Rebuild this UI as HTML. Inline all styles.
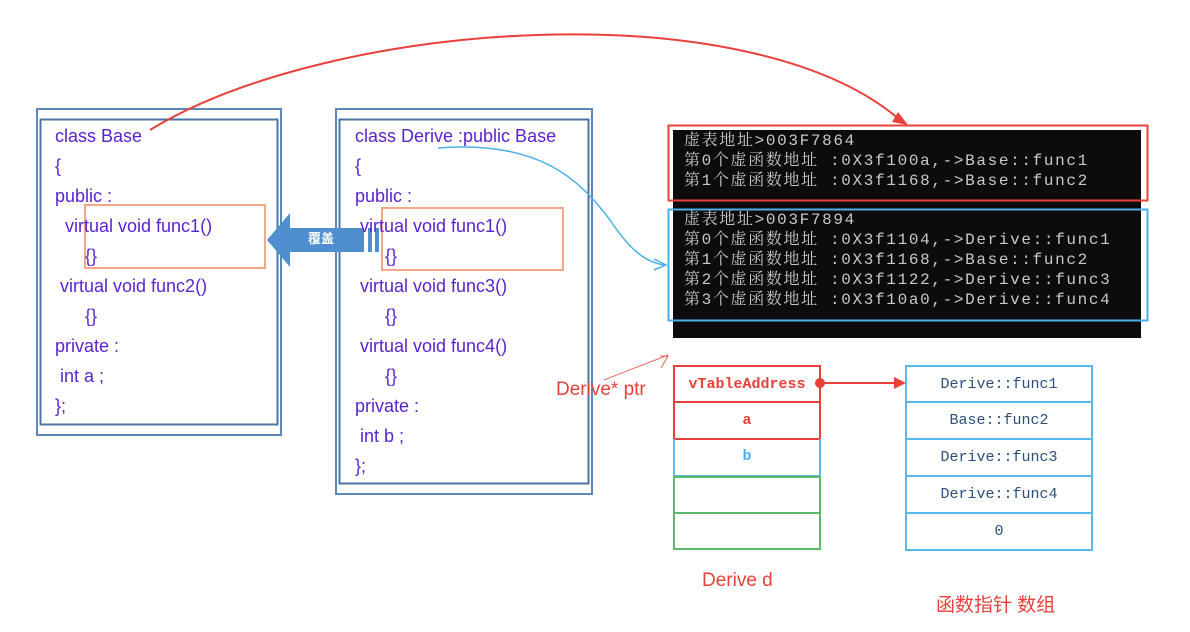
<!DOCTYPE html>
<html><head><meta charset="utf-8"><style>
body{margin:0;width:1190px;height:632px;background:#fff;position:relative;overflow:hidden;font-family:"Liberation Sans","Noto Sans CJK SC",sans-serif}
.a{position:absolute}
.code{position:absolute;color:#5a23cf;font-size:18px;line-height:30px;white-space:pre}
.con{position:absolute;left:684px;color:#c8c8c8;font-family:"Liberation Mono","Noto Serif CJK SC",monospace;font-size:16px;line-height:20px;white-space:pre;letter-spacing:1.65px}
.cell{position:absolute;box-sizing:border-box;text-align:center;font-family:"Liberation Mono","Noto Serif CJK SC",monospace;font-size:15px;line-height:35px}
</style></head><body>
<svg class="a" style="left:0;top:0" width="1190" height="632">
<rect x="37" y="109" width="244" height="326" fill="none" stroke="#5b88b8" stroke-width="2"/>
<rect x="40.5" y="119.5" width="237" height="305" fill="none" stroke="#4a73a8" stroke-width="2"/>
<rect x="336" y="109" width="256" height="385" fill="none" stroke="#5b88b8" stroke-width="2"/>
<rect x="339.5" y="119.5" width="249" height="364" fill="none" stroke="#4a73a8" stroke-width="2"/>
<rect x="85" y="205" width="180" height="63" fill="none" stroke="#f0a888" stroke-width="2"/>
<rect x="382" y="208" width="181" height="62" fill="none" stroke="#f0a888" stroke-width="2"/>
<polygon points="267,240 290,213 290,228 364,228 364,252 290,252 290,267" fill="#4f8fd0"/>
<rect x="368" y="228" width="4" height="24" fill="#4f8fd0"/>
<rect x="375" y="228" width="4" height="24" fill="#4f8fd0"/>
<rect x="673" y="130" width="468" height="208" fill="#0c0c0c"/>
<rect x="668.5" y="125.5" width="479" height="75" fill="none" stroke="#e8413a" stroke-width="2"/>
<rect x="668.5" y="209.5" width="479" height="111" fill="none" stroke="#4ab0e8" stroke-width="2"/>
<path d="M150,130 C330,20 750,-10 900,120" fill="none" stroke="#e8413a" stroke-width="2"/>
<polygon points="908,125 892,122 898,112" fill="#e8413a"/>
<path d="M438,148 C540,140 580,180 610,220 C630,250 645,262 664,265" fill="none" stroke="#4ab0e8" stroke-width="1.5"/>
<path d="M654,259 L666,265 L654,270" fill="none" stroke="#4ab0e8" stroke-width="1.5"/>
<path d="M604,380 L668,355 M660,356 L668,356 L661,368" fill="none" stroke="#e8413a" stroke-width="0.8"/>
<line x1="820" y1="383" x2="896" y2="383" stroke="#e8413a" stroke-width="2"/>
<polygon points="906,383 894,377 894,389" fill="#e8413a"/>
<circle cx="820" cy="383" r="5" fill="#e8413a"/>
</svg>
<div class="code" style="left:55px;top:121px">class Base
{
public :
  virtual void func1()
      {}
 virtual void func2()
      {}
private :
 int a ;
};</div>
<div class="code" style="left:355px;top:121px">class Derive :public Base
{
public :
 virtual void func1()
      {}
 virtual void func3()
      {}
 virtual void func4()
      {}
private :
 int b ;
};</div>
<div class="a" style="left:308px;top:230px;color:#fff;font-size:13px;font-weight:bold;line-height:18px">覆盖</div>
<div class="con" style="top:131px">虚表地址>003F7864
第0个虚函数地址 :0X3f100a,->Base::func1
第1个虚函数地址 :0X3f1168,->Base::func2</div>
<div class="con" style="top:210px">虚表地址>003F7894
第0个虚函数地址 :0X3f1104,->Derive::func1
第1个虚函数地址 :0X3f1168,->Base::func2
第2个虚函数地址 :0X3f1122,->Derive::func3
第3个虚函数地址 :0X3f10a0,->Derive::func4</div>
<div class="cell" style="left:673px;top:365px;width:148px;height:38px;border:2px solid #e8413a;color:#e8413a;font-weight:bold">vTableAddress</div>
<div class="cell" style="left:673px;top:401px;width:148px;height:39px;border:2px solid #e8413a;color:#e8413a;font-weight:bold">a</div>
<div class="cell" style="left:673px;top:439px;width:148px;height:38px;border:2px solid #5ab8ec;border-top:none;color:#4ab0e8;font-weight:bold">b</div>
<div class="cell" style="left:673px;top:476px;width:148px;height:38px;border:2px solid #5cb86a"></div>
<div class="cell" style="left:673px;top:512px;width:148px;height:38px;border:2px solid #5cb86a"></div>
<div class="cell" style="left:905px;top:365px;width:188px;height:38px;border:2px solid #5ab8ec;color:#2b4f7a">Derive::func1</div>
<div class="cell" style="left:905px;top:401px;width:188px;height:39px;border:2px solid #5ab8ec;color:#2b4f7a">Base::func2</div>
<div class="cell" style="left:905px;top:438px;width:188px;height:39px;border:2px solid #5ab8ec;color:#2b4f7a">Derive::func3</div>
<div class="cell" style="left:905px;top:475px;width:188px;height:39px;border:2px solid #5ab8ec;color:#2b4f7a">Derive::func4</div>
<div class="cell" style="left:905px;top:512px;width:188px;height:39px;border:2px solid #5ab8ec;color:#2b4f7a">0</div>
<div class="a" style="left:556px;top:379px;color:#e8413a;font-size:19px">Derive* ptr</div>
<div class="a" style="left:702px;top:570px;color:#e8413a;font-size:19px">Derive d</div>
<div class="a" style="left:936px;top:590px;color:#e8413a;font-size:19px">函数指针 数组</div>
</body></html>
